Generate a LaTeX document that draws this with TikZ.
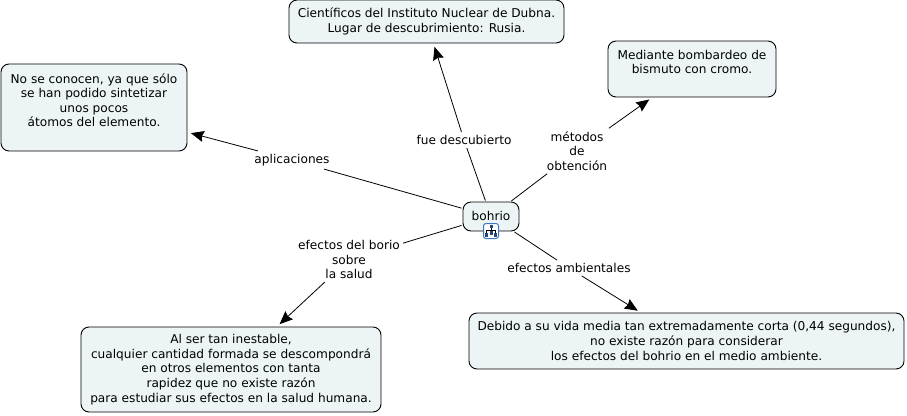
\documentclass[tikz,border=0pt]{standalone}
\usepackage{fontspec}
\setmainfont{DejaVu Sans}
\usetikzlibrary{arrows.meta}
\definecolor{boxfill}{HTML}{EDF4F6}
\definecolor{iconblue}{HTML}{3B78C4}
\tikzset{
  concept/.style={draw=black,line width=0.9pt,fill=boxfill,rounded corners=8pt,align=center,
    font=\fontsize{12.15}{14.6}\selectfont,text=black,inner sep=0pt,anchor=center},
  linklabel/.style={align=center,font=\fontsize{12.15}{14.6}\selectfont,text=black,inner sep=3pt,anchor=center},
  link/.style={line width=0.8pt,black},
  arrowlink/.style={link,-{Stealth[length=13pt,width=11pt,inset=1.5pt]}},
}
\begin{document}
\begin{tikzpicture}[x=1pt,y=-1pt]
\useasboundingbox (0,0) rectangle (907,415);
\node[concept,minimum width=275pt,minimum height=43pt] (top) at (426.5,21.5) {\raisebox{-1pt}{Científicos del Instituto Nuclear de Dubna.}\\\raisebox{-1pt}{Lugar de descubrimiento: Rusia.}};
\node[concept,minimum width=168pt,minimum height=56pt] (rt) at (692,69) {Mediante bombardeo de\\bismuto con cromo.\\\mbox{}};
\node[concept,minimum width=186pt,minimum height=87pt] (lf) at (94,107.5) {No se conocen, ya que sólo\\se han podido sintetizar\\unos pocos\\átomos del elemento.\\\mbox{}};
\node[concept,minimum width=56pt,minimum height=29pt] (bo) at (491,216.5) {\raisebox{1.5pt}{bohrio}};
\node[concept,minimum width=300pt,minimum height=85pt] (bl) at (231,369.5) {Al ser tan inestable,\\cualquier cantidad formada se descompondrá\\en otros elementos con tanta\\rapidez que no existe razón\\para estudiar sus efectos en la salud humana.};
\node[concept,minimum width=435pt,minimum height=56pt] (br) at (686.5,341) {Debido a su vida media tan extremadamente corta (0,44 segundos),\\no existe razón para considerar\\los efectos del bohrio en el medio ambiente.};
\node[linklabel] (l1) at (464,140) {fue descubierto};
\node[linklabel] (l2) at (577,151) {métodos\\de\\obtención};
\node[linklabel] (l3) at (292,160) {aplicaciones};
\node[linklabel] (l4) at (349,259.5) {efectos del borio\\sobre\\la salud};
\node[linklabel] (l5) at (569,268) {efectos ambientales};
\foreach \a/\b in {l1/top,l2/rt,l3/lf,l4/bl,l5/br}{
  \draw[arrowlink,shorten >=3.5pt] (\a) -- (\b);
}
\foreach \a in {l1,l2,l3,l4,l5}{
  \draw[link,shorten <=1pt] (bo) -- (\a);
}
% hierarchy icon
\node[draw=iconblue,line width=1pt,fill=white,rounded corners=2.5pt,minimum size=15pt,inner sep=0pt] (ic) at (491,231) {};
\draw[black,line width=0.5pt] (491,226) -- (491,232) (486.5,234) -- (486.5,230) -- (495.5,230) -- (495.5,234);
\fill[iconblue!60!black] (489.5,224.5) rectangle (492.5,228);
\fill[iconblue!60!black] (485,233) rectangle (488,237);
\fill[iconblue!60!black] (489.5,231) rectangle (492.5,235);
\fill[iconblue!60!black] (494,233) rectangle (497,237);
\end{tikzpicture}
\end{document}
